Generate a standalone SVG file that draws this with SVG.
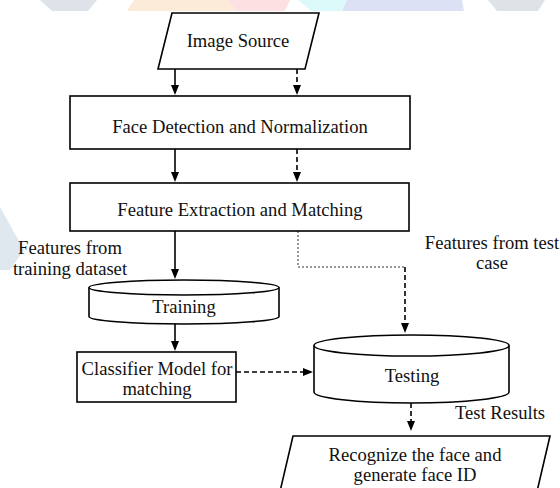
<svg xmlns="http://www.w3.org/2000/svg" width="560" height="488" viewBox="0 0 560 488">
  <style>
    .shape { fill: #ffffff; stroke: #000000; stroke-width: 1.6; }
    .label { font-family: "Liberation Serif", "Times New Roman", serif; font-size: 18.6px; fill: #111111; text-anchor: middle; }
    .solid { fill: none; stroke: #000000; stroke-width: 1.6; }
    .dash { fill: none; stroke: #000000; stroke-width: 1.6; stroke-dasharray: 5 3; }
    .dot { fill: none; stroke: #333333; stroke-width: 1; stroke-dasharray: 2 2; }
  </style>
  <defs>
    <marker id="arrow" viewBox="0 0 10 8" refX="6" refY="4" markerWidth="10" markerHeight="8" markerUnits="userSpaceOnUse" orient="auto">
      <path d="M0,0 L10,4 L0,8 z" fill="#000000"/>
    </marker>
  </defs>

  <rect width="560" height="488" fill="#ffffff"/>

  <!-- faint background tiles -->
  <g id="backdrop" stroke="none">
    <polygon points="40,0 97,0 88,11 52,11" fill="#dde3e8"/>
    <polygon points="134,0 228,0 236,11 127,11" fill="#fdebd9"/>
    <polygon points="228,0 290,0 285,11 236,11" fill="#fde0e2"/>
    <polygon points="298,0 347,0 342,11 311,11" fill="#dcfafa"/>
    <polygon points="347,0 462,0 464,11 342,11" fill="#dde1f5"/>
    <polygon points="488,0 545,0 538,11 497,11" fill="#dde3e6"/>
    <polygon points="0,207 24,250 10,270 0,270" fill="#e0e8ef"/>
  </g>

  <!-- connectors -->
  <g id="connectors">
    <line class="solid" x1="175" y1="69" x2="175" y2="91" marker-end="url(#arrow)"/>
    <line class="dash" x1="297" y1="69" x2="297" y2="91" marker-end="url(#arrow)"/>
    <line class="solid" x1="175" y1="149" x2="175" y2="178" marker-end="url(#arrow)"/>
    <line class="dash" x1="297" y1="149" x2="297" y2="178" marker-end="url(#arrow)"/>
    <line class="solid" x1="175" y1="231" x2="175" y2="275" marker-end="url(#arrow)"/>
    <line class="solid" x1="175" y1="324" x2="175" y2="347" marker-end="url(#arrow)"/>
    <line class="dash" x1="236" y1="372" x2="309" y2="372" marker-end="url(#arrow)"/>
    <polyline class="dot" points="298,231 298,267 405,267"/>
    <line class="dash" x1="405" y1="267" x2="405" y2="329" marker-end="url(#arrow)"/>
    <line class="dash" x1="411" y1="403" x2="411" y2="427" marker-end="url(#arrow)"/>
  </g>

  <g id="image-source">
    <polygon class="shape" points="172,13 319,13 305,69 158,69"/>
    <text class="label" x="238" y="47">Image Source</text>
  </g>

  <g id="face-detection">
    <rect class="shape" x="70" y="96" width="340" height="53"/>
    <text class="label" x="240" y="133">Face Detection and Normalization</text>
  </g>

  <g id="feature-extraction">
    <rect class="shape" x="70" y="183" width="339" height="48"/>
    <text class="label" x="240" y="216">Feature Extraction and Matching</text>
  </g>

  <g id="training-label">
    <text class="label" x="70" y="254">Features from</text>
    <text class="label" x="70" y="275">training dataset</text>
  </g>

  <g id="test-label">
    <text class="label" x="492" y="249">Features from test</text>
    <text class="label" x="492" y="269">case</text>
  </g>

  <g id="training">
    <path class="shape" d="M89,287.5 A95,7.5 0 0 1 279,287.5 L279,316.5 A95,7.5 0 0 1 89,316.5 Z"/>
    <path class="solid" d="M89,287.5 A95,7.5 0 0 0 279,287.5"/>
    <text class="label" x="184" y="313">Training</text>
  </g>

  <g id="classifier">
    <rect class="shape" x="77" y="352" width="159" height="50"/>
    <text class="label" x="157" y="375">Classifier Model for</text>
    <text class="label" x="157" y="395">matching</text>
  </g>

  <g id="testing">
    <path class="shape" d="M314,345.5 A97.5,10.5 0 0 1 509,345.5 L509,392 A97.5,11 0 0 1 314,392 Z"/>
    <path class="solid" d="M314,345.5 A97.5,10.5 0 0 0 509,345.5"/>
    <text class="label" x="412" y="382">Testing</text>
  </g>

  <g id="test-results">
    <text class="label" x="500" y="419">Test Results</text>
  </g>

  <g id="recognize">
    <polygon class="shape" points="293,436 550,436 535,500 278,500"/>
    <text class="label" x="415" y="461">Recognize the face and</text>
    <text class="label" x="415" y="481">generate face ID</text>
  </g>
</svg>
